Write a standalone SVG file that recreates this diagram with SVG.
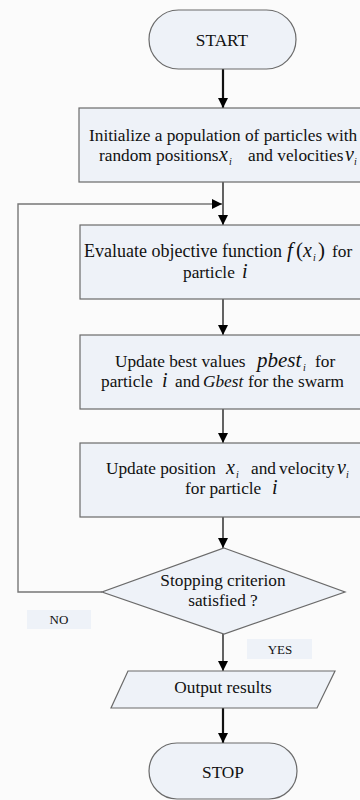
<svg xmlns="http://www.w3.org/2000/svg" width="360" height="800" viewBox="0 0 360 800">
<style>
.node{fill:#eef2f8;stroke:#6a6a6a;stroke-width:1.2}
.t{font-family:"Liberation Serif","Times New Roman",serif;font-size:17.3px;fill:#111}
.m{font-family:"Liberation Serif","Times New Roman",serif;font-style:italic;font-size:20px;fill:#111}
.s{font-family:"Liberation Serif","Times New Roman",serif;font-style:italic;font-size:10px;fill:#111}
.lbl{font-family:"Liberation Serif","Times New Roman",serif;font-size:13px;fill:#111}
.c{stroke:#222;stroke-width:1.4;fill:none}
.cb{stroke:#111;stroke-width:2.2;fill:none}
.fb{stroke:#777;stroke-width:1.4;fill:none}
</style>
<defs>
<marker id="ah" viewBox="0 0 10 10" markerUnits="userSpaceOnUse" markerWidth="10" markerHeight="11" refX="10" refY="5" orient="auto">
<path d="M0,0 L10,5 L0,10 z" fill="#000"/>
</marker>
</defs>
<rect x="0" y="0" width="360" height="800" fill="#fbfbfb"/>
<g id="connectors">
<line class="cb" x1="223" y1="69" x2="223" y2="108" marker-end="url(#ah)"/>
<line class="c" x1="223" y1="182" x2="223" y2="225" marker-end="url(#ah)"/>
<polyline class="fb" points="102,592 18,592 18,204 222,204" marker-end="url(#ah)"/>
<line class="c" x1="223" y1="299" x2="223" y2="335" marker-end="url(#ah)"/>
<line class="c" x1="223" y1="409" x2="223" y2="443" marker-end="url(#ah)"/>
<line class="c" x1="223" y1="517" x2="223" y2="548" marker-end="url(#ah)"/>
<line class="c" x1="223" y1="634" x2="223" y2="671" marker-end="url(#ah)"/>
<line class="cb" x1="223" y1="708" x2="223" y2="743" marker-end="url(#ah)"/>
</g>
<g id="start">
<rect class="node" x="149" y="10" width="147" height="59" rx="29.5"/>
<text class="t" x="222" y="46" text-anchor="middle">START</text>
</g>
<g id="init">
<rect class="node" x="79" y="108" width="300" height="74"/>
<text class="t" x="89" y="141">Initialize a population of particles with</text>
<text class="t" x="99" y="161">random positions</text>
<text class="m" x="219" y="161">x</text><text class="s" x="229" y="165">i</text>
<text class="t" x="248" y="161">and velocities</text>
<text class="m" x="345" y="161">v</text><text class="s" x="354" y="165">i</text>
</g>
<g id="evaluate">
<rect class="node" x="80" y="225" width="300" height="74"/>
<text class="t" x="84" y="257" style="font-size:18px">Evaluate objective function</text>
<text class="m" x="287" y="257" style="font-size:21px">f</text>
<text class="t" x="296" y="257" style="font-size:21px">(</text>
<text class="m" x="303" y="257">x</text><text class="s" x="313" y="261">i</text>
<text class="t" x="318" y="257" style="font-size:21px">)</text>
<text class="t" x="332" y="257">for</text>
<text class="t" x="183" y="278">particle</text>
<text class="m" x="242" y="278">i</text>
</g>
<g id="update-best">
<rect class="node" x="80" y="335" width="300" height="74"/>
<text class="t" x="115" y="367">Update best values</text>
<text class="m" x="257" y="367" style="font-size:21px">pbest</text><text class="s" x="303" y="371">i</text>
<text class="t" x="315" y="367">for</text>
<text class="t" x="101" y="387">particle</text>
<text class="m" x="162" y="387">i</text>
<text class="t" x="175" y="387">and</text>
<text class="t" x="203" y="387" style="font-style:italic">Gbest</text>
<text class="t" x="248" y="387">for the swarm</text>
</g>
<g id="update-pos">
<rect class="node" x="80" y="443" width="300" height="74"/>
<text class="t" x="106" y="474">Update position</text>
<text class="m" x="226" y="474">x</text><text class="s" x="236" y="478">i</text>
<text class="t" x="251" y="474">and</text>
<text class="t" x="279" y="474">velocity</text>
<text class="m" x="337" y="474">v</text><text class="s" x="346" y="478">i</text>
<text class="t" x="185" y="494">for particle</text>
<text class="m" x="272" y="494">i</text>
</g>
<g id="decision">
<polygon class="node" points="224,548 345,592 224,634 102,592"/>
<text class="t" x="223" y="586" text-anchor="middle">Stopping criterion</text>
<text class="t" x="223" y="606" text-anchor="middle">satisfied ?</text>
</g>
<g id="no-label">
<rect x="27" y="610" width="64" height="19" fill="#eef2f8"/>
<text class="lbl" x="59" y="624" text-anchor="middle">NO</text>
</g>
<g id="yes-label">
<rect x="247" y="639" width="65" height="20" fill="#eef2f8"/>
<text class="lbl" x="280" y="654" text-anchor="middle">YES</text>
</g>
<g id="output">
<polygon class="node" points="128,671 335,671 317,708 111,708"/>
<text class="t" x="223" y="693" text-anchor="middle">Output results</text>
</g>
<g id="stop">
<rect class="node" x="149" y="743" width="148" height="56" rx="28"/>
<text class="t" x="223" y="778" text-anchor="middle">STOP</text>
</g>
</svg>
